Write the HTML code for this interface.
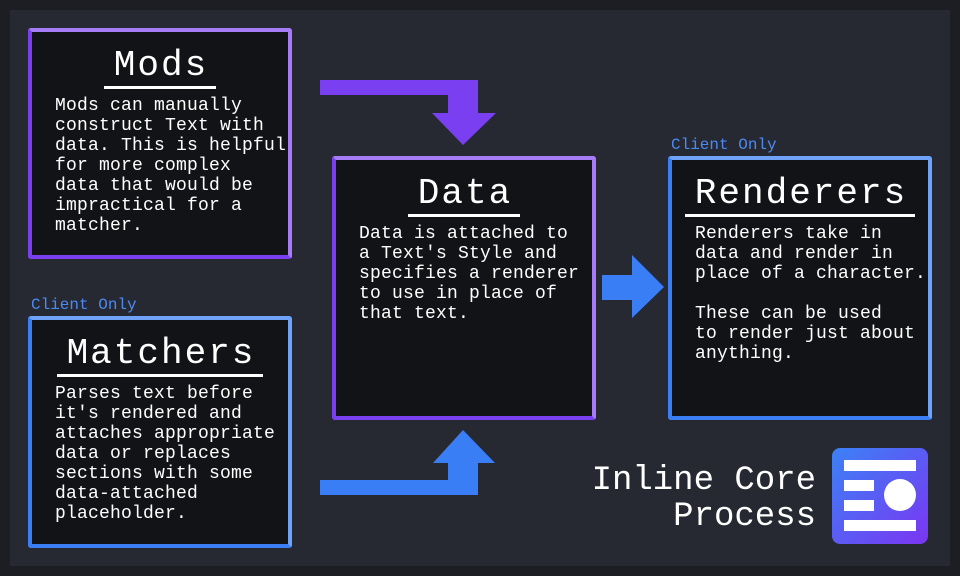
<!DOCTYPE html>
<html><head><meta charset="utf-8"><style>
body{margin:0;width:960px;height:576px;background:#1c1e23;overflow:hidden;position:relative;font-family:"Liberation Mono",monospace;color:#fff}
.panel{position:absolute;left:10px;top:10px;width:940px;height:556px;background:#262931}
.box{position:absolute;background:#121316;border:4px solid;border-radius:3px;box-sizing:border-box}
.p{border-color:#a57cf6 #a57cf6 #7b3ff2 #7b3ff2}
.b{border-color:#6fa3f7 #6fa3f7 #3a7ef5 #3a7ef5}
.t{position:absolute;left:0;right:0;text-align:center;font-size:36px;top:15px;line-height:38px;letter-spacing:2px}
.t span{border-bottom:3px solid #fff;padding:0 8px 0 10px}
.x{position:absolute;left:23px;top:64px;font-size:18px;line-height:20px;white-space:pre;letter-spacing:0.2px}
.co{position:absolute;font-size:16px;color:#4c8af2;line-height:20px}
</style></head><body>
<div class="panel"></div>
<div class="box p" style="left:28px;top:28px;width:264px;height:231px"><div class="t"><span>Mods</span></div><div class="x">Mods can manually
construct Text with
data. This is helpful
for more complex
data that would be
impractical for a
matcher.</div></div>
<div class="co" style="left:31px;top:295px">Client Only</div>
<div class="box b" style="left:28px;top:316px;width:264px;height:232px"><div class="t"><span>Matchers</span></div><div class="x">Parses text before
it's rendered and
attaches appropriate
data or replaces
sections with some
data-attached
placeholder.</div></div>
<div class="box p" style="left:332px;top:156px;width:264px;height:264px"><div class="t"><span>Data</span></div><div class="x">Data is attached to
a Text's Style and
specifies a renderer
to use in place of
that text.</div></div>
<div class="co" style="left:671px;top:135px">Client Only</div>
<div class="box b" style="left:668px;top:156px;width:264px;height:264px"><div class="t"><span>Renderers</span></div><div class="x">Renderers take in
data and render in
place of a character.

These can be used
to render just about
anything.</div></div>
<svg width="960" height="576" style="position:absolute;left:0;top:0">
<path d="M320 80 H478 V113 H496 L463 145 L432 113 H448 V95 H320 Z" fill="#7b3ff2"/>
<path d="M320 480 H448 V463 H433 L463 430 L495 463 H478 V495 H320 Z" fill="#3a7ef5"/>
<path d="M602 275 H632 V255 L664 287 L632 318 V300 H602 Z" fill="#3a7ef5"/>
<defs><linearGradient id="g" x1="0" y1="0" x2="1" y2="1"><stop offset="0" stop-color="#3b82f6"/><stop offset="1" stop-color="#7b35f2"/></linearGradient></defs>
<rect x="832" y="448" width="96" height="96" rx="8" fill="url(#g)"/>
<g fill="#fff"><rect x="844" y="460" width="72" height="11"/><rect x="844" y="480" width="30" height="11"/><rect x="844" y="500" width="30" height="11"/><circle cx="900" cy="495" r="16"/><rect x="844" y="520" width="72" height="11"/></g>
</svg>
<div style="position:absolute;right:144px;top:463px;font-size:34px;line-height:36px;text-align:right;white-space:pre">Inline Core
Process</div>
</body></html>
